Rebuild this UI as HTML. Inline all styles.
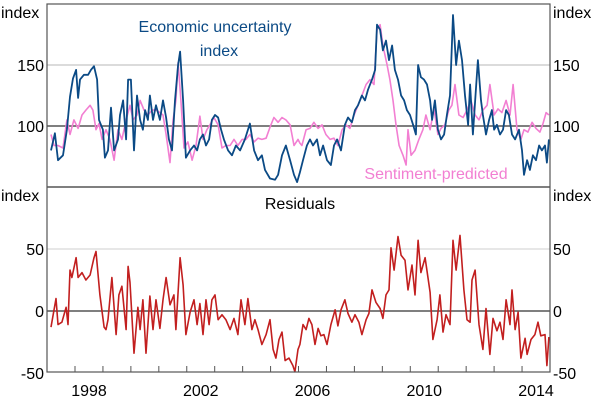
<!DOCTYPE html>
<html><head><meta charset="utf-8"><style>
body{margin:0;background:#fff}
svg{display:block;font-family:"Liberation Sans",Arial,sans-serif}
</style></head><body>
<svg id="chart" width="600" height="401" viewBox="0 0 600 401"></svg>
<script>
const econDates=[1997.14,1997.28,1997.39,1997.57,1997.71,1997.82,1997.93,1998.04,1998.11,1998.18,1998.32,1998.47,1998.57,1998.68,1998.79,1998.86,1999.00,1999.07,1999.18,1999.29,1999.40,1999.54,1999.61,1999.72,1999.83,1999.90,2000.00,2000.11,2000.22,2000.33,2000.43,2000.51,2000.61,2000.68,2000.79,2000.90,2001.04,2001.15,2001.26,2001.36,2001.47,2001.58,2001.69,2001.76,2001.87,2001.97,2002.12,2002.26,2002.37,2002.47,2002.58,2002.69,2002.80,2002.90,2003.01,2003.12,2003.23,2003.33,2003.48,2003.62,2003.76,2003.91,2004.08,2004.26,2004.41,2004.55,2004.69,2004.80,2004.98,2005.16,2005.27,2005.41,2005.55,2005.70,2005.84,2005.95,2006.05,
2006.16,2006.30,2006.41,2006.52,2006.66,2006.77,2006.88,2007.02,2007.16,2007.27,2007.38,2007.52,2007.66,2007.77,2007.91,2008.02,2008.13,2008.27,2008.38,2008.49,2008.63,2008.74,2008.81,2008.92,2009.02,2009.13,2009.24,2009.35,2009.45,2009.56,2009.67,2009.78,2009.88,2009.99,2010.10,2010.20,2010.28,2010.38,2010.49,2010.60,2010.71,2010.78,2010.88,2010.99,2011.10,2011.21,2011.31,2011.42,2011.53,2011.64,2011.74,2011.85,2011.96,2012.07,2012.14,2012.24,2012.35,2012.42,2012.53,2012.60,2012.71,2012.82,2012.92,2013.00,2013.10,2013.21,2013.32,2013.43,2013.53,2013.64,2013.75,2013.89,2014.00,2014.07,2014.18,2014.28,2014.39,2014.50,2014.61,2014.71,2014.82,2014.89,2014.96];
const econValues=[80,94,72,76,97,124,139,146,123,138,142,142,146,149,138,105,97,74,80,115,80,89,109,121,89,138,138,80,125,105,97,113,105,125,105,117,105,121,107,89,80,121,150,161,121,74,80,84,80,89,93,84,89,105,109,107,97,89,80,76,84,80,89,102,80,72,76,64,57,56,60,76,84,72,60,54,62,
72,84,89,84,89,76,84,72,68,84,89,80,101,107,103,113,117,125,121,130,138,146,183,179,162,170,154,166,146,138,125,121,113,109,101,93,150,140,138,134,121,105,121,97,89,93,109,125,191,150,170,154,125,101,134,93,130,154,121,109,93,105,113,97,101,93,97,113,109,93,89,97,80,60,72,64,76,72,84,80,84,70,89];
const sentDates=[1997.14,1997.25,1997.39,1997.57,1997.71,1997.82,1997.96,1998.11,1998.25,1998.39,1998.54,1998.64,1998.75,1998.86,1998.97,1999.11,1999.25,1999.40,1999.54,1999.68,1999.83,1999.97,2000.08,2000.22,2000.33,2000.47,2000.61,2000.76,2000.90,2001.04,2001.15,2001.26,2001.40,2001.51,2001.61,2001.69,2001.79,2001.90,2002.04,2002.19,2002.33,2002.47,2002.58,2002.72,2002.83,2002.97,2003.12,2003.26,2003.40,2003.55,2003.69,2003.83,2003.98,2004.12,2004.26,2004.41,2004.55,2004.69,2004.84,2004.98,2005.12,2005.27,2005.41,2005.55,2005.70,2005.84,2005.98,2006.05,
2006.12,2006.27,2006.41,2006.55,2006.70,2006.84,2006.98,2007.13,2007.27,2007.41,2007.56,2007.70,2007.84,2007.99,2008.13,2008.27,2008.42,2008.56,2008.70,2008.81,2008.92,2009.02,2009.17,2009.27,2009.38,2009.49,2009.60,2009.74,2009.85,2009.92,2010.03,2010.17,2010.31,2010.45,2010.56,2010.71,2010.85,2010.99,2011.10,2011.24,2011.38,2011.49,2011.60,2011.74,2011.89,2012.03,2012.17,2012.32,2012.46,2012.60,2012.75,2012.85,2013.00,2013.14,2013.28,2013.43,2013.57,2013.68,2013.82,2013.96,2014.07,2014.21,2014.36,2014.50,2014.64,2014.75,2014.86,2014.96];
const sentValues=[93,84,84,82,105,93,105,98,109,113,117,113,97,102,89,97,89,72,97,89,105,117,105,109,121,113,109,113,113,111,109,93,70,105,121,152,121,82,87,72,84,108,89,97,101,107,101,82,84,84,89,84,89,89,93,87,90,89,90,99,107,103,107,105,101,84,89,86,
84,97,98,103,98,101,93,89,90,84,97,101,98,109,117,125,134,138,134,179,183,166,150,138,121,101,84,76,68,97,76,80,89,97,109,97,114,93,98,101,113,117,134,109,107,113,121,109,105,113,117,134,109,114,111,121,109,134,97,89,97,95,103,98,95,102,111,109];
const resDates=[1997.14,1997.32,1997.39,1997.53,1997.68,1997.75,1997.82,1997.89,1998.04,1998.11,1998.25,1998.39,1998.54,1998.68,1998.75,1998.89,1999.04,1999.11,1999.18,1999.32,1999.47,1999.57,1999.68,1999.83,1999.90,1999.97,2000.11,2000.25,2000.33,2000.43,2000.54,2000.68,2000.79,2000.90,2001.04,2001.15,2001.26,2001.40,2001.54,2001.61,2001.76,2001.87,2001.97,2002.12,2002.26,2002.37,2002.47,2002.58,2002.69,2002.80,2002.90,2003.01,2003.12,2003.26,2003.40,2003.55,2003.69,2003.83,2003.94,2004.08,2004.19,2004.33,2004.44,2004.55,2004.69,2004.84,2004.98,2005.09,2005.19,2005.30,2005.41,2005.52,2005.66,2005.80,2005.87,2005.98,
2006.05,2006.16,2006.27,2006.37,2006.48,2006.59,2006.70,2006.80,2006.91,2007.02,2007.16,2007.31,2007.41,2007.52,2007.66,2007.77,2007.91,2008.02,2008.16,2008.27,2008.42,2008.52,2008.63,2008.77,2008.92,2009.02,2009.13,2009.24,2009.31,2009.42,2009.56,2009.67,2009.81,2009.92,2010.06,2010.17,2010.28,2010.38,2010.53,2010.71,2010.81,2010.96,2011.06,2011.17,2011.28,2011.42,2011.53,2011.64,2011.78,2011.92,2012.03,2012.14,2012.21,2012.32,2012.46,2012.60,2012.71,2012.85,2012.96,2013.10,2013.21,2013.32,2013.43,2013.57,2013.64,2013.75,2013.86,2013.96,2014.11,2014.18,2014.32,2014.46,2014.57,2014.67,2014.82,2014.89,2014.96];
const resValues=[-13,10,-11,-9,3,-11,33,27,43,27,31,25,29,43,48,13,-13,-15,-7,27,-19,13,20,-15,36,23,-34,3,-15,9,-34,12,-15,9,-14,9,27,5,13,-15,43,21,-19,-1,9,-11,6,-19,9,-11,9,13,-7,-3,-7,-15,-6,-19,9,-11,10,-15,-7,-15,-27,-19,-7,-31,-38,-23,-17,-40,-38,-44,-49,-31,
-27,-11,-15,-6,-11,-27,-14,-20,-19,-27,-11,1,-12,1,9,-2,-9,-3,-9,-19,-7,-2,17,7,2,-6,13,17,51,33,60,45,41,17,37,13,57,31,43,15,-23,-7,13,-17,-3,-11,57,33,61,17,-7,-9,25,33,-11,-31,2,-35,-6,-16,-9,-23,9,-11,17,-15,-1,-38,-22,-35,-23,-19,-9,-20,-19,-44,-21];
const xTickYears=[1998,1999,2000,2001,2002,2003,2004,2005,2006,2007,2008,2009,2010,2011,2012,2013,2014];
const xLabelYears=[1998,2002,2006,2010,2014];
const topTicks=[100,150];
const botTicks=[-50,0,50];

const NS='http://www.w3.org/2000/svg';
const svg=document.getElementById('chart');
const L=47,R=550;
const xs=y=>75+(y-1998)*27.94;
const yTop=v=>126-(v-100)*1.22;
const yBot=v=>311-v*1.24;
function el(tag,attrs,parent){const e=document.createElementNS(NS,tag);for(const k in attrs)e.setAttribute(k,attrs[k]);(parent||svg).appendChild(e);return e;}
function txt(s,x,y,anchor,fill,size,name){const t=el('text',{x:x,y:y,'text-anchor':anchor,fill:fill,'font-size':size});t.textContent=s;


return t;}

let g=el('line',{x1:L,x2:R,y1:yTop(150),y2:yTop(150),stroke:'#cfcfcf','stroke-width':1.5});


g=el('line',{x1:L,x2:R,y1:yBot(50),y2:yBot(50),stroke:'#cfcfcf','stroke-width':1});


g=el('line',{x1:L,x2:R,y1:yTop(100),y2:yTop(100),stroke:'#333','stroke-width':1.2});


g=el('line',{x1:L,x2:R,y1:yBot(0),y2:yBot(0),stroke:'#555','stroke-width':1.6});



function series(dates,vals,yf,color,name,w){
  const pts=vals.map((v,i)=>xs(dates[i]).toFixed(1)+','+yf(v).toFixed(1)).join(' ');
  const p=el('polyline',{points:pts,fill:'none',stroke:color,'stroke-width':w,'stroke-linejoin':'round'});
  
  
}
series(sentDates,sentValues,yTop,'#f27fd2','sentiment-predicted-line',1.6);
series(econDates,econValues,yTop,'#0b4a85','economic-uncertainty-line',1.8);
series(resDates,resValues,yBot,'#c21f1f','residuals-line',1.6);

let f=el('rect',{x:L,y:4,width:R-L,height:368,fill:'none',stroke:'#555','stroke-width':1.2});


f=el('line',{x1:L,x2:R,y1:187,y2:187,stroke:'#555','stroke-width':1.5});



xTickYears.forEach(y=>{const t=el('line',{x1:xs(y),x2:xs(y),y1:372,y2:366,stroke:'#555','stroke-width':1});

});
xLabelYears.forEach(y=>txt(String(y),xs(y)+14,396,'middle','#000',16,'x-tick-label'));
topTicks.forEach(v=>{txt(String(v),44,yTop(v)+6,'end','#000',16,'left-y-tick-label');txt(String(v),553,yTop(v)+6,'start','#000',16,'right-y-tick-label');});
botTicks.forEach(v=>{txt(String(v),44,yBot(v)+6,'end','#000',16,'left-y-tick-label');txt(String(v),553,yBot(v)+6,'start','#000',16,'right-y-tick-label');});
txt('index',1,18,'start','#000',16,'top-left-unit');
txt('index',553,18,'start','#000',16,'top-right-unit');
txt('index',1,201,'start','#000',16,'bottom-left-unit');
txt('index',553,201,'start','#000',16,'bottom-right-unit');
txt('Economic uncertainty',215,32,'middle','#0b4a85',16,'economic-uncertainty-label');
txt('index',219,56,'middle','#0b4a85',16,'economic-uncertainty-label-line2');
txt('Sentiment-predicted',436,179,'middle','#f27fd2',16,'sentiment-predicted-label');
txt('Residuals',300,209,'middle','#000',16,'residuals-panel-title');
</script>
</body></html>
